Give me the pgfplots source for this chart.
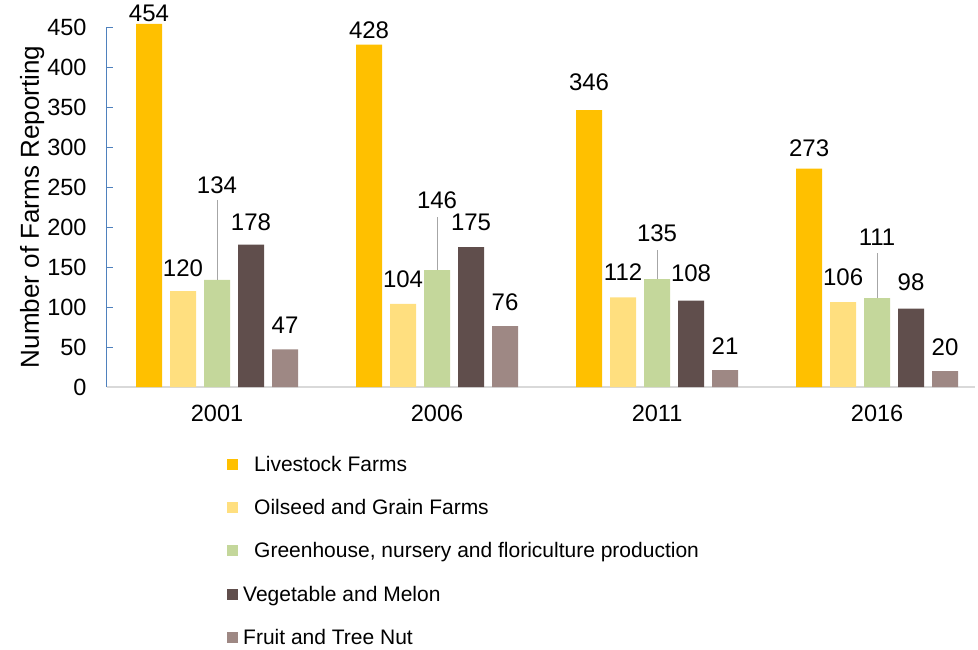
\documentclass[border=0pt]{standalone}
\usepackage{pgfplots}
\pgfplotsset{compat=1.18}
\usepackage{fontspec}
\setmainfont{Liberation Sans}
\definecolor{livestock}{HTML}{FFC000}
\definecolor{oilseed}{HTML}{FFDF7F}
\definecolor{greenh}{HTML}{C4D79B}
\definecolor{veg}{HTML}{604E4C}
\definecolor{fruit}{HTML}{9E8884}
\definecolor{yaxisblue}{HTML}{4F81BD}
\definecolor{xaxisgray}{HTML}{D9D9D9}

\begin{document}
\begin{tikzpicture}[dl/.style={font=\fontsize{24}{28}\selectfont}]
\begin{axis}[
    scale only axis,
    width=868pt, height=360pt,
    ybar, bar width=26pt, /pgfplots/ybar=8pt,
    xmin=-0.5, xmax=3.445,
    ymin=0, ymax=450,
    ytick={0,50,...,450},
    xtick={0,1,2,3},
    xticklabels={2001,2006,2011,2016},
    /pgf/number format/assume math mode=true,
    axis lines*=left,
    x axis line style={xaxisgray, line width=1.2pt, -},
    y axis line style={yaxisblue, line width=1pt, -},
    ytick style={yaxisblue, line width=0.8pt},
    major tick length=6pt,
    xtick style={draw=none},
    tick align=inside,
    ticklabel style={font=\fontsize{23.5}{28}\selectfont},
    yticklabel style={xshift=-17pt},
    xticklabel style={yshift=-15pt},
    ylabel={Number of Farms Reporting},
    ylabel style={font=\fontsize{26}{30}\selectfont, yshift=-4pt},
    clip=false,
    legend cell align=left,
    legend style={at={(120pt,-67pt)}, anchor=north west, draw=none,
        row sep=22.5pt, inner sep=0pt, font=\fontsize{21}{25}\selectfont},
    legend image code/.code={\fill[#1,draw=none] (0pt,-5.5pt) rectangle (11pt,5.5pt);},
]
\addplot[fill=livestock, draw=none] coordinates {(0,454) (1,428) (2,346) (3,273)};
\addplot[fill=oilseed, draw=none] coordinates {(0,120) (1,104) (2,112) (3,106)};
\addplot[fill=greenh, draw=none] coordinates {(0,134) (1,146) (2,135) (3,111)};
\addplot[fill=veg, draw=none] coordinates {(0,178) (1,175) (2,108) (3,98)};
\addplot[fill=fruit, draw=none] coordinates {(0,47) (1,76) (2,21) (3,20)};
\legend{\hspace{14pt}Livestock Farms, \hspace{14pt}Oilseed and Grain Farms,
    {\hspace{14pt}Greenhouse, nursery and floriculture production},
    \hspace{3pt}Vegetable and Melon, \hspace{3pt}Fruit and Tree Nut}

% leader lines for the greenhouse labels
\draw[gray!70, line width=1pt] (axis cs:0,134) -- (axis cs:0,234);
\draw[gray!70, line width=1pt] (axis cs:1,146) -- (axis cs:1,212);
\draw[gray!70, line width=1pt] (axis cs:2,135) -- (axis cs:2,171);
\draw[gray!70, line width=1pt] (axis cs:3,111) -- (axis cs:3,167);

% data labels
\node[dl, xshift=-68pt] at (axis cs:0,467) {454};
\node[dl, xshift=-34pt] at (axis cs:0,149) {120};
\node[dl] at (axis cs:0,252) {134};
\node[dl, xshift=34pt] at (axis cs:0,206) {178};
\node[dl, xshift=68pt] at (axis cs:0,77) {47};

\node[dl, xshift=-68pt] at (axis cs:1,446) {428};
\node[dl, xshift=-34pt] at (axis cs:1,135) {104};
\node[dl] at (axis cs:1,234) {146};
\node[dl, xshift=34pt] at (axis cs:1,206) {175};
\node[dl, xshift=68pt] at (axis cs:1,106) {76};

\node[dl, xshift=-68pt] at (axis cs:2,381) {346};
\node[dl, xshift=-34pt] at (axis cs:2,144) {112};
\node[dl] at (axis cs:2,192) {135};
\node[dl, xshift=34pt] at (axis cs:2,142) {108};
\node[dl, xshift=68pt] at (axis cs:2,51) {21};

\node[dl, xshift=-68pt] at (axis cs:3,299) {273};
\node[dl, xshift=-34pt] at (axis cs:3,137) {106};
\node[dl] at (axis cs:3,187) {111};
\node[dl, xshift=34pt] at (axis cs:3,131) {98};
\node[dl, xshift=68pt] at (axis cs:3,50) {20};

\path (rel axis cs:0,0) ++(-107pt,-263pt) coordinate (bbA)
      (rel axis cs:0,0) ++(871pt,387pt) coordinate (bbB);
\end{axis}
\useasboundingbox (bbA) rectangle (bbB);
\end{tikzpicture}
\end{document}
